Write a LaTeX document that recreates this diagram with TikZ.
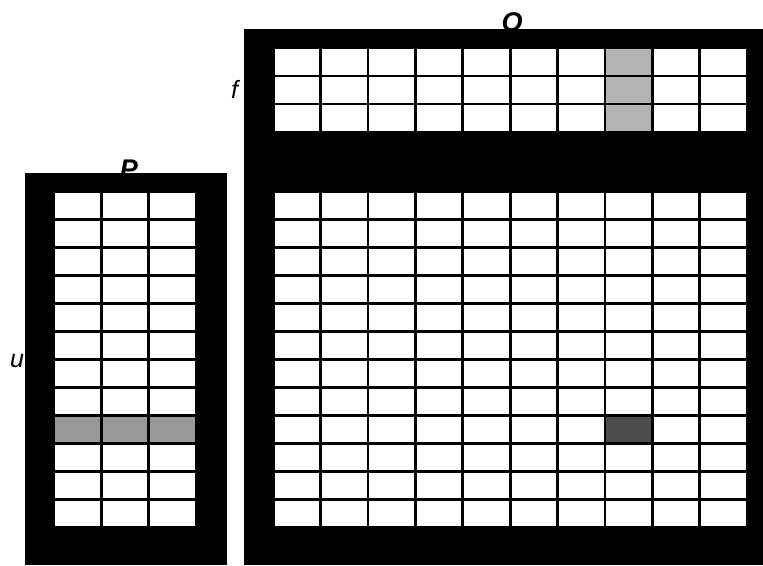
\documentclass[tikz,border=0pt]{standalone}
\usepackage{fontspec}
\setmainfont{Liberation Sans}
\usepackage{tikz}
\usepackage{xcolor}
\definecolor{rowcol}{RGB}{153,153,153}
\definecolor{colcol}{RGB}{179,179,179}
\definecolor{hitcol}{RGB}{77,77,77}
\tikzset{
  % black backing of a matrix
  matframe/.style={fill=black, draw=none},
  % one matrix cell
  cell/.style={draw=black, line width=2.7pt, fill=#1},
  cell/.default={white},
  % matrix name
  matname/.style={font=\fontsize{27}{30}\selectfont\bfseries\itshape, inner sep=0pt, anchor=base},
  % index label
  idxlabel/.style={font=\fontsize{25}{28}\selectfont\itshape, inner sep=0pt, anchor=base west},
}

\begin{document}
\begin{tikzpicture}[x=1pt, y=-1pt]
  \useasboundingbox (0,0) rectangle (763,565);
  % names and indices (partly hidden by the frames)
  \node[matname] (Qname) at (512,31.6) {Q};
  \node[matname] (Pname) at (129,178.6) {P};
  \node[idxlabel] (flab) at (231,98) {f};
  \node[idxlabel] (ulab) at (10,367) {u};
  % frames
  \fill[matframe] (25,172.7) rectangle (226.7,565);
  \fill[matframe] (244,29) rectangle (763,565);
  % P: 12 x 3
  \foreach \i in {0,...,2}
    \foreach \j in {0,...,11}
      \draw[cell] (53.8+\i*47.4,191.7+\j*27.97) rectangle ++(47.4,27.97);
  \foreach \i in {0,...,2}
    \draw[cell=rowcol] (53.8+\i*47.4,191.7+8*27.97) rectangle ++(47.4,27.97);
  % Q, top block: 3 x 10
  \foreach \i in {0,...,9}
    \foreach \j in {0,...,2}
      \draw[cell] (273.2+\i*47.4,48+\j*28) rectangle ++(47.4,28);
  \foreach \j in {0,...,2}
    \draw[cell=colcol] (273.2+7*47.4,48+\j*28) rectangle ++(47.4,28);
  % Q, bottom block: 12 x 10
  \foreach \i in {0,...,9}
    \foreach \j in {0,...,11}
      \draw[cell] (273.2+\i*47.4,191.7+\j*27.97) rectangle ++(47.4,27.97);
  \draw[cell=hitcol] (273.2+7*47.4,191.7+8*27.97) rectangle ++(47.4,27.97);
\end{tikzpicture}
\end{document}
